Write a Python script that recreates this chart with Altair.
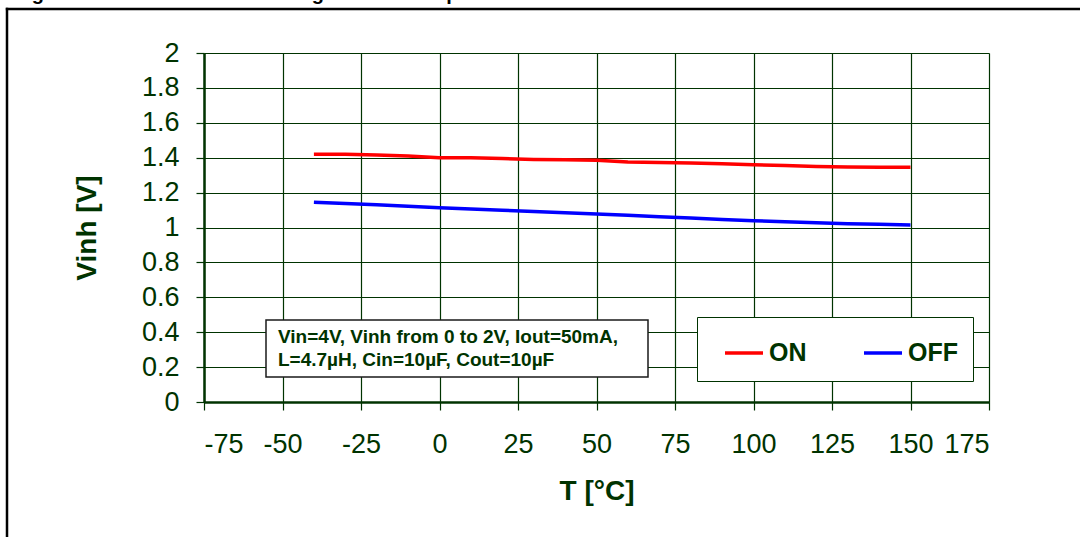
import altair as alt
import pandas as pd

# ---- data ----
temps = [-40, -30, -20, -10, 0, 10, 20, 30, 40, 50, 60, 70, 80, 90, 100, 110, 120, 130, 140, 150]
on_vals = [1.42, 1.42, 1.415, 1.41, 1.40, 1.40, 1.395, 1.39, 1.388, 1.385, 1.375, 1.373, 1.37, 1.366, 1.36, 1.355, 1.35, 1.346, 1.345, 1.345]
off_vals = [1.145, 1.138, 1.13, 1.122, 1.113, 1.106, 1.099, 1.092, 1.085, 1.078, 1.07, 1.062, 1.054, 1.046, 1.039, 1.033, 1.027, 1.022, 1.018, 1.015]
series_names = ["ON", "OFF"]
series_colors = ["#FF0000", "#0000FF"]
x_ticks = [-75, -50, -25, 0, 25, 50, 75, 100, 125, 150, 175]
y_ticks = [0, 0.2, 0.4, 0.6, 0.8, 1, 1.2, 1.4, 1.6, 1.8, 2]
note_lines = ["Vin=4V, Vinh from 0 to 2V, Iout=50mA,", "L=4.7\u00b5H, Cin=10\u00b5F, Cout=10\u00b5F"]
fig_title = "Figure 9. Inhibit threshold voltage versus temperature"

rows = []
for t, v in zip(temps, on_vals):
    rows.append({"T": t, "V": v, "s": "ON"})
for t, v in zip(temps, off_vals):
    rows.append({"T": t, "V": v, "s": "OFF"})
df = pd.DataFrame(rows)

GREEN = "#003300"
FONT = "Liberation Sans"
W, H = 785, 349
one = alt.Data(values=[{}])

lines = alt.Chart(df).mark_line(strokeWidth=3.5, clip=True).encode(
    x=alt.X("T:Q", scale=alt.Scale(domain=[-75, 175], nice=False),
            axis=alt.Axis(values=x_ticks, labelExpr="datum.value + ''", title="T [\u00b0C]")),
    y=alt.Y("V:Q", scale=alt.Scale(domain=[0, 2], nice=False),
            axis=alt.Axis(values=y_ticks, format="~g", title="Vinh [V]")),
    color=alt.Color("s:N", scale=alt.Scale(domain=series_names, range=series_colors),
                    legend=alt.Legend(title=None, orient="none", legendX=493, legendY=264,
                                      direction="horizontal", symbolType="stroke",
                                      symbolSize=1444, symbolStrokeWidth=3.5,
                                      symbolOffset=11,
                                      labelFontSize=25, labelFontWeight="bold",
                                      labelColor=GREEN, labelFont=FONT, labelOffset=4,
                                      columnPadding=44, padding=15,
                                      fillColor="white", strokeColor=GREEN)),
    detail="s:N",
)

frame_left = alt.Chart(one).mark_rule(stroke="black", strokeWidth=2.5, clip=False).encode(
    x=alt.value(-197), y=alt.value(-45.2), y2=alt.value(700)
)
frame_top = alt.Chart(one).mark_rule(stroke="black", strokeWidth=2.5, clip=False).encode(
    x=alt.value(-198.2), x2=alt.value(1200), y=alt.value(-44)
)

note_box = alt.Chart(one).mark_rect(fill="white", stroke="#1a1a1a", strokeWidth=1.5).encode(
    x=alt.value(62), x2=alt.value(444), y=alt.value(267), y2=alt.value(324)
)

note1 = alt.Chart(one).mark_text(align="left", baseline="middle", fontSize=19, fontWeight="bold",
                                 color=GREEN, font=FONT, text=note_lines[0]).encode(
    x=alt.value(74), y=alt.value(284))
note2 = alt.Chart(one).mark_text(align="left", baseline="middle", fontSize=19, fontWeight="bold",
                                 color=GREEN, font=FONT, text=note_lines[1]).encode(
    x=alt.value(74), y=alt.value(307))

title_txt = alt.Chart(one).mark_text(align="left", baseline="alphabetic", fontSize=20, fontWeight="bold",
                                     color="black", font=FONT, text=fig_title).encode(
    x=alt.value(-190), y=alt.value(-53))

chart = alt.layer(frame_left, frame_top, lines, note_box, note1, note2, title_txt).properties(
    width=W, height=H,
    autosize=alt.AutoSizeParams(type="none"),
    padding={"left": 204, "top": 53, "right": 91, "bottom": 135},
    background="white",
).configure_view(strokeWidth=0).configure_axis(
    domainColor=GREEN, domainWidth=2.5,
    gridColor=GREEN, gridWidth=1.2, gridOpacity=1,
    tickColor=GREEN, tickWidth=1.2, tickSize=8,
    labelColor=GREEN, labelFont=FONT, labelFontSize=27,
    titleColor=GREEN, titleFont=FONT, titleFontSize=28, titleFontWeight="bold",
).configure_axisX(labelPadding=21, titlePadding=20).configure_axisY(labelPadding=17, titlePadding=40)

chart.save("out.html", embed_options={"renderer": "svg", "actions": False})
